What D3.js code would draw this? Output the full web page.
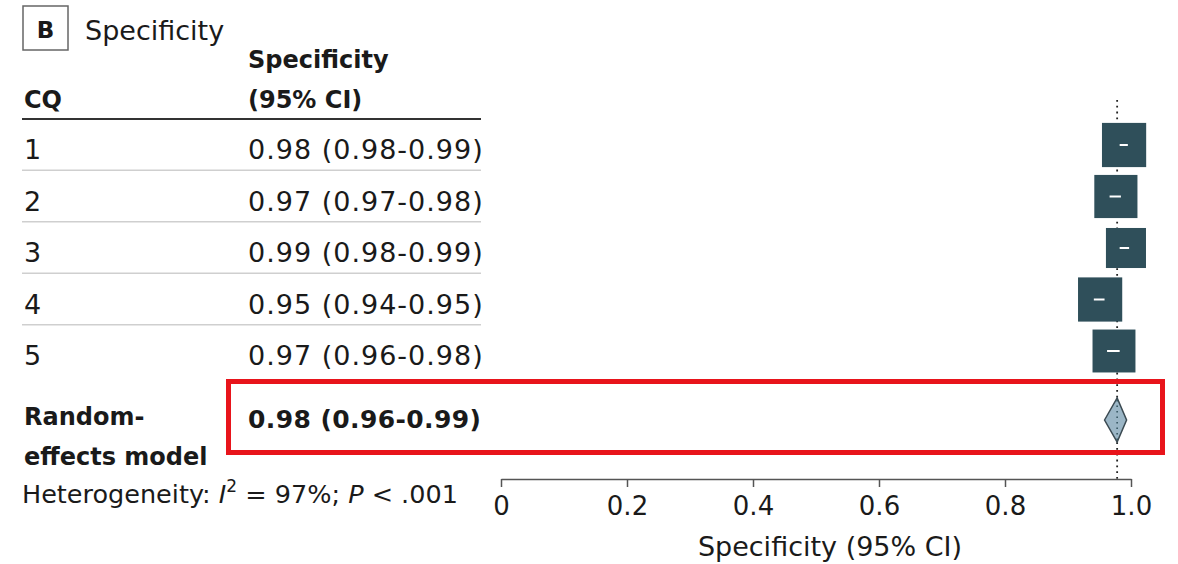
<!DOCTYPE html>
<html>
<head>
<meta charset="utf-8">
<script src="https://cdn.jsdelivr.net/npm/d3@7"></script>
<style>
  body { margin: 0; background: #fff; }
  text { font-family: "DejaVu Sans", sans-serif; fill: #1a1a1a; }
</style>
</head>
<body>
<div id="chart"></div>
<script>
// data
var studies = ["1", "2", "3", "4", "5"];
var estimates = [0.989, 0.976, 0.992, 0.951, 0.973];
var lower = [0.982, 0.966, 0.982, 0.941, 0.962];
var upper = [0.995, 0.984, 0.997, 0.958, 0.982];
var weights = [21.2, 20.2, 17.4, 21.2, 20.0];
var ciLabels = ["0.98 (0.98-0.99)", "0.97 (0.97-0.98)", "0.99 (0.98-0.99)", "0.95 (0.94-0.95)", "0.97 (0.96-0.98)"];
var pooled = [0.978, 0.958, 0.993];
var pooledLabel = "0.98 (0.96-0.99)";
var tickValues = [0, 0.2, 0.4, 0.6, 0.8, 1.0];
var tickLabels = ["0", "0.2", "0.4", "0.6", "0.8", "1.0"];

var W = 1178, H = 564;

var svg = d3.select("#chart")
  .append("svg")
    .attr("width", W)
    .attr("height", H);

// scales
var x = d3.scaleLinear().domain([0, 1]).range([501, 1131]);
var y = d3.scalePoint().domain(studies).range([145, 351]);
var size = d3.scaleSqrt().domain([0, 25]).range([0, 48]);
var yPooled = 420;
var axisY = 479;

// panel label
svg.append("rect")
  .attr("x", 23).attr("y", 6).attr("width", 45).attr("height", 44)
  .attr("fill", "none").attr("stroke", "#666").attr("stroke-width", 1.5);
svg.append("text")
  .attr("x", 45.5).attr("y", 38).attr("text-anchor", "middle")
  .style("font-size", "23px").style("font-weight", "bold")
  .text("B");
svg.append("text")
  .attr("x", 85).attr("y", 40)
  .style("font-size", "27px")
  .text("Specificity");

// column headers
svg.append("text").attr("x", 248).attr("y", 68)
  .style("font-size", "24px").style("font-weight", "bold").text("Specificity");
svg.append("text").attr("x", 248).attr("y", 108)
  .style("font-size", "24px").style("font-weight", "bold").text("(95% CI)");
svg.append("text").attr("x", 24).attr("y", 108)
  .style("font-size", "24px").style("font-weight", "bold").text("CQ");

svg.append("line")
  .attr("x1", 22).attr("x2", 481).attr("y1", 119).attr("y2", 119)
  .attr("stroke", "#333").attr("stroke-width", 2);

// row separators
svg.selectAll(".sep")
  .data(studies.slice(0, -1))
  .enter()
  .append("line")
    .attr("x1", 22).attr("x2", 481)
    .attr("y1", function(d) { return y(d) + y.step() / 2 - 0.5; })
    .attr("y2", function(d) { return y(d) + y.step() / 2 - 0.5; })
    .attr("stroke", "#cfcfcf").attr("stroke-width", 1.5);

// row labels
svg.selectAll(".lab")
  .data(studies)
  .enter()
  .append("text")
    .attr("x", 24)
    .attr("y", function(d) { return y(d) + 14; })
    .style("font-size", "27px")
    .text(function(d) { return d; });

svg.selectAll(".ci")
  .data(ciLabels)
  .enter()
  .append("text")
    .attr("x", 248)
    .attr("y", function(d, i) { return y(studies[i]) + 14; })
    .style("font-size", "27px")
    .style("letter-spacing", "1px")
    .text(function(d) { return d; });

// pooled row text
svg.append("text").attr("x", 24).attr("y", 425)
  .style("font-size", "24px").style("font-weight", "bold").text("Random-");
svg.append("text").attr("x", 24).attr("y", 465)
  .style("font-size", "24px").style("font-weight", "bold").text("effects model");
svg.append("text").attr("x", 248).attr("y", 428)
  .style("font-size", "25px").style("font-weight", "bold")
  .style("letter-spacing", "0.4px")
  .text(pooledLabel);

var het = svg.append("text").attr("x", 22).attr("y", 503)
  .style("font-size", "25.5px");
het.append("tspan").text("Heterogeneity: ");
het.append("tspan").style("font-style", "italic").text("I");
het.append("tspan").attr("dy", -11).style("font-size", "17px").text("2");
het.append("tspan").attr("dy", 11).text(" = 97%; ");
het.append("tspan").style("font-style", "italic").text("P");
het.append("tspan").text(" < .001");

// reference line at pooled estimate
svg.append("line")
  .attr("x1", x(pooled[0])).attr("x2", x(pooled[0]))
  .attr("y1", 100).attr("y2", axisY)
  .attr("stroke", "#222").attr("stroke-width", 1.8)
  .attr("stroke-dasharray", "1.8,4");

// boxes
svg.selectAll(".box")
  .data(estimates)
  .enter()
  .append("rect")
    .attr("x", function(d, i) { return x(d) - size(weights[i]) / 2; })
    .attr("y", function(d, i) { return y(studies[i]) - size(weights[i]) / 2; })
    .attr("width", function(d, i) { return size(weights[i]); })
    .attr("height", function(d, i) { return size(weights[i]); })
    .attr("fill", "#2f4f5a");

svg.selectAll(".whisker")
  .data(estimates)
  .enter()
  .append("line")
    .attr("x1", function(d, i) { return x(lower[i]); })
    .attr("x2", function(d, i) { return x(upper[i]); })
    .attr("y1", function(d, i) { return y(studies[i]); })
    .attr("y2", function(d, i) { return y(studies[i]); })
    .attr("stroke", "#fff").attr("stroke-width", 2);

// pooled diamond
svg.append("polygon")
  .attr("points", [
    [x(pooled[1]), yPooled],
    [x(pooled[0]), yPooled - 22],
    [x(pooled[2]), yPooled],
    [x(pooled[0]), yPooled + 22]
  ].map(function(p) { return p.join(","); }).join(" "))
  .attr("fill", "#9bb6c6").attr("stroke", "#3b4a52").attr("stroke-width", 1.5);

svg.append("line")
  .attr("x1", x(pooled[0])).attr("x2", x(pooled[0]))
  .attr("y1", yPooled - 20).attr("y2", yPooled + 20)
  .attr("stroke", "#2f4f5a").attr("stroke-width", 1.5)
  .attr("stroke-dasharray", "1.5,4");

// highlight frame
svg.append("rect")
  .attr("x", 228.5).attr("y", 381.5).attr("width", 934).attr("height", 71)
  .attr("fill", "none").attr("stroke", "#e8141b").attr("stroke-width", 5);

// x axis
var axis = svg.append("g")
  .attr("transform", "translate(0," + axisY + ")")
  .call(d3.axisBottom(x)
    .tickValues(tickValues)
    .tickFormat(function(d, i) { return tickLabels[i]; })
    .tickSizeOuter(0)
    .tickSizeInner(8)
    .tickPadding(10));
axis.select(".domain").attr("stroke", "#555").attr("stroke-width", 1.5);
axis.selectAll(".tick line").attr("stroke", "#555").attr("stroke-width", 1.5);
axis.selectAll(".tick text")
  .style("font-size", "26px")
  .style("font-family", "DejaVu Sans, sans-serif")
  .attr("fill", "#1a1a1a");

svg.append("text")
  .attr("x", 830).attr("y", 556).attr("text-anchor", "middle")
  .style("font-size", "27px")
  .text("Specificity (95% CI)");
</script>
</body>
</html>
